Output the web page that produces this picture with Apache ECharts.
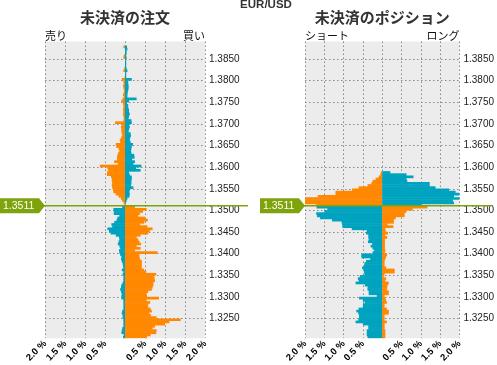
<!DOCTYPE html>
<html><head><meta charset="utf-8">
<script src="https://cdn.jsdelivr.net/npm/echarts@6/dist/echarts.min.js"></script>
<style>html,body{margin:0;padding:0;background:#fff}#c{width:497px;height:365px}</style>
</head><body><div id="c"></div>
<script>
const pairName = 'EUR/USD';
const currentPrice = 1.3511;
const titleOrders = '未決済の注文';
const titlePositions = '未決済のポジション';
const percentTicks = [-2, -1.5, -1, -0.5, 0, 0.5, 1, 1.5, 2];

// price buckets, top to bottom
const priceLevels = [
'1.3885','1.3880','1.3875','1.3870','1.3865','1.3860','1.3855','1.3850','1.3845','1.3840',
'1.3835','1.3830','1.3825','1.3820','1.3815','1.3810','1.3805','1.3800','1.3795','1.3790',
'1.3785','1.3780','1.3775','1.3770','1.3765','1.3760','1.3755','1.3750','1.3745','1.3740',
'1.3735','1.3730','1.3725','1.3720','1.3715','1.3710','1.3705','1.3700','1.3695','1.3690',
'1.3685','1.3680','1.3675','1.3670','1.3665','1.3660','1.3655','1.3650','1.3645','1.3640',
'1.3635','1.3630','1.3625','1.3620','1.3615','1.3610','1.3605','1.3600','1.3595','1.3590',
'1.3585','1.3580','1.3575','1.3570','1.3565','1.3560','1.3555','1.3550','1.3545','1.3540',
'1.3535','1.3530','1.3525','1.3520','1.3515','1.3510','1.3505','1.3500','1.3495','1.3490',
'1.3485','1.3480','1.3475','1.3470','1.3465','1.3460','1.3455','1.3450','1.3445','1.3440',
'1.3435','1.3430','1.3425','1.3420','1.3415','1.3410','1.3405','1.3400','1.3395','1.3390',
'1.3385','1.3380','1.3375','1.3370','1.3365','1.3360','1.3355','1.3350','1.3345','1.3340',
'1.3335','1.3330','1.3325','1.3320','1.3315','1.3310','1.3305','1.3300','1.3295','1.3290',
'1.3285','1.3280','1.3275','1.3270','1.3265','1.3260','1.3255','1.3250','1.3245','1.3240',
'1.3235','1.3230','1.3225','1.3220','1.3215','1.3210','1.3205'];

// open orders (%), left side = sell, right side = buy
const orderSell = [
0,0,.04,0,0,0,.03,.04,0,0,
0,0,.02,.04,0,0,.01,.08,.04,.03,
.05,.04,.02,.03,.05,.03,.06,.09,.05,.04,
.04,.05,.04,.05,.04,.03,.04,.25,.07,.10,
.09,.09,.08,.07,.10,.13,.12,.23,.22,.16,
.14,.17,.19,.20,.20,.27,.18,.63,.44,.42,
.45,.45,.35,.33,.33,.32,.33,.32,.30,.29,
.23,.16,.10,.07,.03,.02,.07,.29,.28,.28,
.14,.19,.21,.27,.34,.32,.44,.40,.36,.23,
.15,.14,.16,.18,.14,.12,.15,.14,.12,.09,
.10,.08,.06,.05,.04,.08,.04,.06,.04,.04,
.04,.06,.09,.10,.12,.10,.08,.09,.09,.04,
.04,.04,.04,.04,.07,.08,.06,.06,.04,.04,
.04,.04,.07,.08,.09,.03,.05];
const orderBuy = [
0,0,.05,.06,.04,.04,.03,.04,.03,.03,
.03,.03,.04,.06,.03,.03,.03,.17,.08,.08,
.09,.09,.08,.07,.06,.06,.29,.10,.05,.08,
.08,.10,.10,.12,.10,.09,.16,.17,.10,.12,
.10,.09,.14,.15,.13,.12,.14,.20,.17,.16,
.15,.16,.23,.24,.18,.25,.21,.41,.28,.39,
.10,.12,.17,.17,.16,.16,.15,.21,.12,.11,
.12,.11,.06,.04,.02,.01,.25,.54,.45,.37,
.33,.50,.57,.48,.38,.56,.69,.62,.58,.39,
.29,.33,.36,.40,.29,.39,.25,.81,.36,.36,
.38,.42,.42,.42,.42,.48,.53,.78,.73,.74,
.75,.71,.71,.69,.67,.58,.54,.55,.85,.54,
.63,.58,.58,.64,.67,.61,.65,.79,1.39,1.11,
1.00,.75,.69,.79,.78,.64,.55];

// open positions (%), left side = short, right side = long
const posShort = [
0,0,0,0,0,0,0,0,0,0,
0,0,0,0,0,0,0,0,0,0,
0,0,0,0,0,0,0,0,0,0,
0,0,0,0,0,0,0,0,0,0,
0,0,0,0,0,0,0,0,0,0,
0,0,0,0,0,0,0,0,0,0,
.03,.05,.09,.17,.25,.28,.38,.61,.78,1.21,
1.21,1.67,2.0,2.0,2.0,1.71,1.70,1.42,1.50,1.71,
1.69,1.61,1.30,1.05,1.04,1.03,.79,.40,.42,.36,
.36,.35,.37,.26,.30,.25,.21,.25,.54,.54,
.31,.42,.46,.47,.52,.48,.47,.46,.58,.63,
.61,.69,.45,.38,.38,.35,.35,.14,.60,.50,
.45,.50,.50,.61,.67,.62,.60,.60,.62,.69,
.50,.36,.36,.40,.40,.40,.38];
const posLong = [
0,0,0,0,0,0,0,0,0,0,
0,0,0,0,0,0,0,0,0,0,
0,0,0,0,0,0,0,0,0,0,
0,0,0,0,0,0,0,0,0,0,
0,0,0,0,0,0,0,0,0,0,
0,0,0,0,0,0,0,0,0,0,
.21,.63,.81,.63,.65,1.23,1.23,1.38,1.73,1.90,
2.0,1.86,2.0,1.83,1.86,1.03,1.17,.79,.63,.58,
.58,.35,.30,.30,.14,.29,.08,.09,.15,.08,
.13,.07,.07,.07,.07,.07,.08,.07,.125,.10,
.08,.06,.06,.06,.10,.32,.32,.06,.04,.10,
.08,.17,.14,.13,.12,.17,.17,.06,.08,.10,
.12,.06,.06,.12,.17,.17,.06,.06,.06,.12,
.06,.06,.06,.08,.08,.08,.08];

const ORANGE = '#ff8800', TEAL = '#00a3bf', GREEN = '#7fa30c';
const LATIN = '"Liberation Sans", Arial, sans-serif';
const JP = '"Noto Sans CJK JP", sans-serif';
const bucket = 0.0005;
const isAbove = i => parseFloat(priceLevels[i]) + bucket > currentPrice;
const leftColor = p => isAbove(p.dataIndex) ? ORANGE : TEAL;
const rightColor = p => isAbove(p.dataIndex) ? TEAL : ORANGE;

const pMin = parseFloat(priceLevels[priceLevels.length - 1]);
const pMax = parseFloat(priceLevels[0]) + bucket;

const chart = echarts.init(document.getElementById('c'), null, {renderer: 'canvas'});
const grids = [
  {left: 45, top: 41.5, width: 160, height: 301.5, show: true, backgroundColor: '#ececec', borderWidth: 0, z: 0},
  {left: 305, top: 41.5, width: 160, height: 301.5, show: true, backgroundColor: '#ececec', borderWidth: 0, z: 0}
];
const gridLine = {type: [1.5, 2.5], color: '#888', width: 1};
function xAx(g) {
  return {
    type: 'value', gridIndex: g, z: 1, min: percentTicks[0], max: percentTicks[percentTicks.length - 1], interval: 0.5,
    axisLine: {show: false}, axisTick: {show: false},
    splitLine: {show: true, lineStyle: gridLine},
    axisLabel: {
      rotate: 45, margin: 4, fontSize: 9.5, fontWeight: 'bold', color: '#000', fontFamily: LATIN,
      formatter: v => v === 0 ? '' : Math.abs(v).toFixed(1) + ' %'
    }
  };
}
function yCat(g) {
  return {type: 'category', gridIndex: g, data: priceLevels, inverse: true, show: false, boundaryGap: true};
}
function yVal(g) {
  return {
    type: 'value', gridIndex: g, z: 1, position: 'right', min: pMin, max: pMax, splitNumber: 13,
    axisLine: {show: false}, axisTick: {show: false},
    axisLabel: {margin: 4, fontSize: 10, color: '#222', fontFamily: LATIN, showMinLabel: false, showMaxLabel: false,
      formatter: v => v.toFixed(4)},
    splitLine: {show: true, showMinLine: false, showMaxLine: false, lineStyle: gridLine}
  };
}
function bar(xi, yi, data, colorFn, sign) {
  return {
    type: 'bar', xAxisIndex: xi, yAxisIndex: yi, data: data.map(v => sign * v), z: 2,
    barGap: '-100%', barWidth: 2.7, itemStyle: {color: colorFn}, silent: true
  };
}
chart.setOption({
  animation: false,
  grid: grids,
  xAxis: [xAx(0), xAx(1)],
  yAxis: [yCat(0), yVal(0), yCat(1), yVal(1)],
  series: [
    bar(0, 0, orderSell, leftColor, -1),
    bar(0, 0, orderBuy, rightColor, 1),
    bar(1, 2, posShort, leftColor, -1),
    bar(1, 2, posLong, rightColor, 1)
  ]
});

const y = chart.convertToPixel({yAxisIndex: 1}, currentPrice);
const lx0 = chart.convertToPixel({xAxisIndex: 0}, percentTicks[0]);
const lx1 = chart.convertToPixel({xAxisIndex: 0}, percentTicks[percentTicks.length - 1]);
const rx0 = chart.convertToPixel({xAxisIndex: 1}, percentTicks[0]);
const rx1 = chart.convertToPixel({xAxisIndex: 1}, percentTicks[percentTicks.length - 1]);
function marker(tipX) {
  const h = 7.5;
  return [
    {type: 'polygon', z: 50, shape: {points: [[tipX - 45, y - h], [tipX - 6, y - h], [tipX, y], [tipX - 6, y + h], [tipX - 45, y + h]]},
      style: {fill: GREEN}},
    {type: 'text', z: 51, style: {text: currentPrice.toFixed(4), x: tipX - 42, y: y + 0.5, fill: '#fff', font: '10.5px ' + LATIN,
      textVerticalAlign: 'middle', textAlign: 'left'}}
  ];
}
const txt = (t, x, yy, align, font, color) => ({type: 'text', z: 60,
  style: {text: t, x: x, y: yy, textAlign: align, textVerticalAlign: 'middle', font: font, fill: color}});
chart.setOption({
  graphic: [
    {type: 'line', z: 40, shape: {x1: lx0 - 5, y1: y, x2: lx1 + 43, y2: y}, style: {stroke: GREEN, lineWidth: 1.5}},
    {type: 'line', z: 40, shape: {x1: rx0 - 5, y1: y, x2: rx1 + 32, y2: y}, style: {stroke: GREEN, lineWidth: 1.5}},
    ...marker(lx0),
    ...marker(rx0),
    txt(pairName, 266, 5, 'center', 'bold 11.5px ' + LATIN, '#333'),
    txt(titleOrders, (lx0 + lx1) / 2, 17.5, 'center', 'bold 15px ' + JP, '#333'),
    txt(titlePositions, (rx0 + rx1) / 2, 17.5, 'center', 'bold 15px ' + JP, '#333'),
    txt('売り', lx0, 36, 'left', '11px ' + JP, '#111'),
    txt('買い', lx1, 36, 'right', '11px ' + JP, '#111'),
    txt('ショート', rx0, 36, 'left', '11px ' + JP, '#111'),
    txt('ロング', rx1, 36, 'right', '11px ' + JP, '#111')
  ]
});
</script></body></html>
